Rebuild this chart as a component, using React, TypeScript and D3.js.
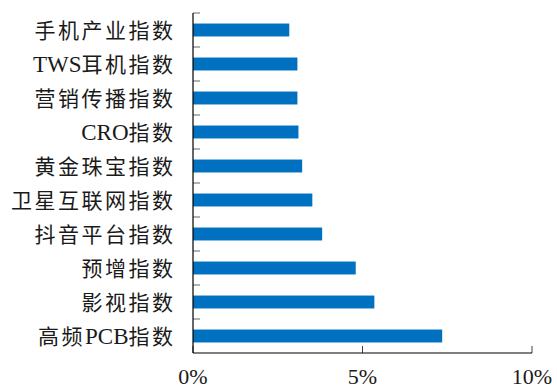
import React from "react";
import * as d3 from "d3";

const categories = ["手机产业指数", "TWS耳机指数", "营销传播指数", "CRO指数", "黄金珠宝指数", "卫星互联网指数", "抖音平台指数", "预增指数", "影视指数", "高频PCB指数"];
const values = [2.84, 3.08, 3.08, 3.11, 3.22, 3.52, 3.81, 4.8, 5.35, 7.35];
const xTicks = [0, 5, 10];

const W = 557, H = 390;
const left = 193, right = 532, top = 13, bottom = 353;
const FONT = "'Liberation Serif', 'Times New Roman', 'Noto Sans CJK SC', serif";

function runs(s: string) {
  return s.split(/([A-Za-z]+)/).filter((r) => r.length > 0);
}

export default function App() {
  const x = d3.scaleLinear().domain([0, 10]).range([left, right]);
  const y = d3.scaleBand<string>().domain(categories).range([top, bottom]).paddingInner(0.62).paddingOuter(0.31);
  const step = y.step();
  const boundaries = d3.range(categories.length).map((i) => top + i * step);
  return (
    <svg width={W} height={H} style={{ position: "absolute", left: 0, top: 0, background: "#fff" }}>
      {categories.map((c, i) => (
        <rect key={c} x={x(0)} y={y(c)!} width={x(values[i]) - x(0)} height={y.bandwidth()} fill="#0070C0" />
      ))}
      {boundaries.map((b, i) => (
        <line key={i} x1={left} x2={left + 7} y1={b} y2={b} stroke="#7f7f7f" strokeWidth={1.2} />
      ))}
      {xTicks.map((t) => (
        <line key={t} x1={x(t)} x2={x(t)} y1={bottom} y2={bottom - 7} stroke="#404040" strokeWidth={1} />
      ))}
      <line x1={left} x2={left} y1={top} y2={bottom} stroke="#000" strokeWidth={1.2} />
      <line x1={left} x2={right} y1={bottom} y2={bottom} stroke="#000" strokeWidth={1.2} />
      {categories.map((c) => (
        <text key={c} x={175.5} y={y(c)! + y.bandwidth() / 2} dy="0.36em" textAnchor="end" fontFamily={FONT} fontSize={21} fill="#1a1a1a">
          {runs(c).map((r, j) => {
            const latin = /[A-Za-z]/.test(r);
            return (
              <tspan key={j} letterSpacing={latin ? 0 : 2.5} fontSize={latin ? 23 : 21}>{r}</tspan>
            );
          })}
        </text>
      ))}
      {xTicks.map((t) => (
        <text key={t} x={x(t)} y={384} textAnchor="middle" fontFamily={FONT} fontSize={22} fill="#1a1a1a">
          {t + "%"}
        </text>
      ))}
    </svg>
  );
}
